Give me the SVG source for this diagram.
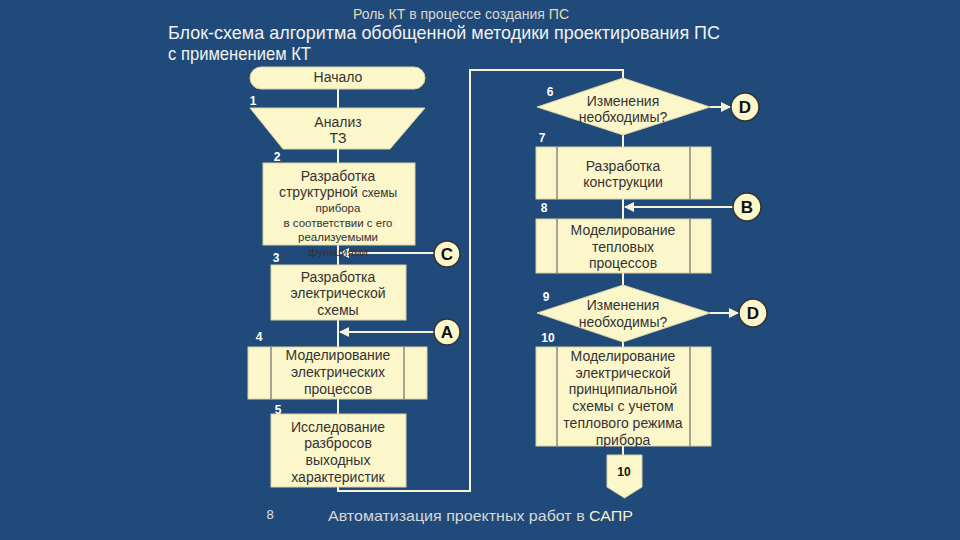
<svg xmlns="http://www.w3.org/2000/svg" width="960" height="540" viewBox="0 0 960 540">
<defs>
<marker id="arr" viewBox="0 0 10 10" refX="9" refY="5" markerWidth="5" markerHeight="5" orient="auto">
<path d="M0,0 L10,5 L0,10 z" fill="#f8f4dc"/>
</marker>
<style>
text{font-family:"Liberation Sans",Arial,sans-serif}
.nd{fill:#fcf6cb;stroke:#d9d2a4;stroke-width:1}
.in{stroke:#555;stroke-width:1}
.t{font-size:14px;fill:#333;text-anchor:middle}
.ts{font-size:11.5px;fill:#333;text-anchor:middle}
.num{font-size:12px;font-weight:bold;fill:#fff;text-anchor:middle}
.cn{fill:#fcf6cb;stroke:#333;stroke-width:1.5}
.cl{font-size:17px;font-weight:bold;fill:#111;text-anchor:middle}
.ln{fill:none;stroke:#f8f4dc;stroke-width:2}
</style>
</defs>
<rect width="960" height="540" fill="#204a7a"/>

<g id="titles">
<text x="461" y="19" font-size="14" fill="#d8d8d8" text-anchor="middle"><tspan fill="#e8dca0">Р</tspan>оль <tspan fill="#e8dca0">КТ</tspan> в процессе создания <tspan fill="#e8dca0">ПС</tspan></text>
<text x="168" y="39" font-size="19" fill="#f2f2f2" textLength="552" lengthAdjust="spacingAndGlyphs">Блок-схема алгоритма обобщенной методики проектирования ПС</text>
<text x="168" y="60" font-size="19" fill="#f2f2f2" textLength="143" lengthAdjust="spacingAndGlyphs">с применением КТ</text>
<text x="270" y="519" font-size="13" fill="#e0e0e0" text-anchor="middle">8</text>
<text x="328" y="521" font-size="15" fill="#d8d8d8" textLength="305" lengthAdjust="spacingAndGlyphs">Автоматизация проектных работ в <tspan fill="#f4f0d0">САПР</tspan></text>
</g>

<g id="connectors">
<line class="ln" x1="338" y1="89" x2="338" y2="108"/>
<line class="ln" x1="338" y1="149" x2="338" y2="163"/>
<line class="ln" x1="338" y1="245" x2="338" y2="265"/>
<line class="ln" x1="338" y1="320" x2="338" y2="347"/>
<line class="ln" x1="338" y1="399" x2="338" y2="414"/>
<polyline class="ln" points="338,487 338,491 470,491 470,70 623,70 623,78"/>
<line class="ln" x1="434" y1="253" x2="340" y2="253" marker-end="url(#arr)"/>
<line class="ln" x1="434" y1="332" x2="340" y2="332" marker-end="url(#arr)"/>
<line class="ln" x1="623" y1="135" x2="623" y2="147"/>
<line class="ln" x1="623" y1="199" x2="623" y2="219"/>
<line class="ln" x1="623" y1="273" x2="623" y2="285"/>
<line class="ln" x1="623" y1="342" x2="623" y2="347"/>
<line class="ln" x1="623" y1="446" x2="623" y2="455"/>
<line class="ln" x1="733" y1="207" x2="625" y2="207" marker-end="url(#arr)"/>
<line class="ln" x1="710" y1="107" x2="730" y2="107" marker-end="url(#arr)"/>
<line class="ln" x1="710" y1="313" x2="738" y2="313" marker-end="url(#arr)"/>
</g>

<g id="n-start">
<rect class="nd" x="250" y="67" width="175" height="22" rx="11"/>
<text class="t" x="338" y="82">Начало</text>
</g>

<g id="n1">
<path class="nd" d="M250,108 L425,108 L390,149 L283,149 z"/>
<text class="t" x="338" y="127">Анализ</text>
<text class="t" x="338" y="143">ТЗ</text>
<text class="num" x="253" y="105">1</text>
</g>

<g id="n2">
<rect class="nd" x="263" y="163" width="152" height="82"/>
<text class="t" x="338" y="181">Разработка</text>
<text class="t" x="338" y="197">структурной <tspan font-size="12">схемы</tspan></text>
<text class="ts" x="338" y="212">прибора</text>
<text class="ts" x="338" y="227" font-size="12">в соответствии с его</text>
<text class="ts" x="338" y="241">реализуемыми</text>
<text class="ts" x="338" y="256">функциями</text>
<text class="num" x="277" y="161">2</text>
</g>

<g id="n3">
<rect class="nd" x="271" y="265" width="135" height="55"/>
<text class="t" x="338" y="282">Разработка</text>
<text class="t" x="338" y="298">электрической</text>
<text class="t" x="338" y="315">схемы</text>
<text class="num" x="276" y="262">3</text>
</g>

<g id="n4">
<rect class="nd" x="248" y="347" width="179" height="52"/>
<line class="in" x1="271" y1="347" x2="271" y2="399"/>
<line class="in" x1="404" y1="347" x2="404" y2="399"/>
<text class="t" x="338" y="360">Моделирование</text>
<text class="t" x="338" y="377">электрических</text>
<text class="t" x="338" y="394">процессов</text>
<text class="num" x="259" y="341">4</text>
</g>

<g id="n5">
<rect class="nd" x="271" y="414" width="135" height="73"/>
<text class="t" x="338" y="432">Исследование</text>
<text class="t" x="338" y="448">разбросов</text>
<text class="t" x="338" y="465">выходных</text>
<text class="t" x="338" y="482">характеристик</text>
<text class="num" x="278" y="414">5</text>
</g>

<g id="n6">
<path class="nd" d="M623,78 L710,107 L623,135 L537,107 z"/>
<text class="t" x="623" y="106">Изменения</text>
<text class="t" x="623" y="122">необходимы?</text>
<text class="num" x="550" y="96">6</text>
</g>

<g id="n7">
<rect class="nd" x="536" y="147" width="175" height="52"/>
<line class="in" x1="557" y1="147" x2="557" y2="199"/>
<line class="in" x1="690" y1="147" x2="690" y2="199"/>
<text class="t" x="623" y="171">Разработка</text>
<text class="t" x="623" y="187">конструкции</text>
<text class="num" x="542" y="142">7</text>
</g>

<g id="n8">
<rect class="nd" x="536" y="219" width="175" height="54"/>
<line class="in" x1="557" y1="219" x2="557" y2="273"/>
<line class="in" x1="690" y1="219" x2="690" y2="273"/>
<text class="t" x="623" y="235">Моделирование</text>
<text class="t" x="623" y="252">тепловых</text>
<text class="t" x="623" y="268">процессов</text>
<text class="num" x="544" y="212">8</text>
</g>

<g id="n9">
<path class="nd" d="M623,285 L710,313 L623,342 L537,313 z"/>
<text class="t" x="623" y="310">Изменения</text>
<text class="t" x="623" y="327">необходимы?</text>
<text class="num" x="546" y="301">9</text>
</g>

<g id="n10">
<rect class="nd" x="536" y="347" width="175" height="99"/>
<line class="in" x1="557" y1="347" x2="557" y2="446"/>
<line class="in" x1="690" y1="347" x2="690" y2="446"/>
<text class="t" x="623" y="361">Моделирование</text>
<text class="t" x="623" y="378">электрической</text>
<text class="t" x="623" y="394">принципиальной</text>
<text class="t" x="623" y="411">схемы с учетом</text>
<text class="t" x="623" y="428">теплового режима</text>
<text class="t" x="623" y="445">прибора</text>
<text class="num" x="548" y="342">10</text>
</g>

<g id="n-off10">
<path class="nd" d="M607,455 L642,455 L642,487 L624.5,498 L607,487 z"/>
<text x="624" y="476" font-size="12" font-weight="bold" fill="#111" text-anchor="middle">10</text>
</g>

<g id="c-C"><circle class="cn" cx="447" cy="254" r="13"/><text class="cl" x="447" y="260">C</text></g>
<g id="c-A"><circle class="cn" cx="447" cy="332" r="13"/><text class="cl" x="447" y="338">A</text></g>
<g id="c-D1"><circle class="cn" cx="745" cy="107" r="14"/><text class="cl" x="745" y="113">D</text></g>
<g id="c-B"><circle class="cn" cx="747" cy="207" r="14"/><text class="cl" x="747" y="213">B</text></g>
<g id="c-D2"><circle class="cn" cx="753" cy="313" r="14"/><text class="cl" x="753" y="319">D</text></g>
</svg>
